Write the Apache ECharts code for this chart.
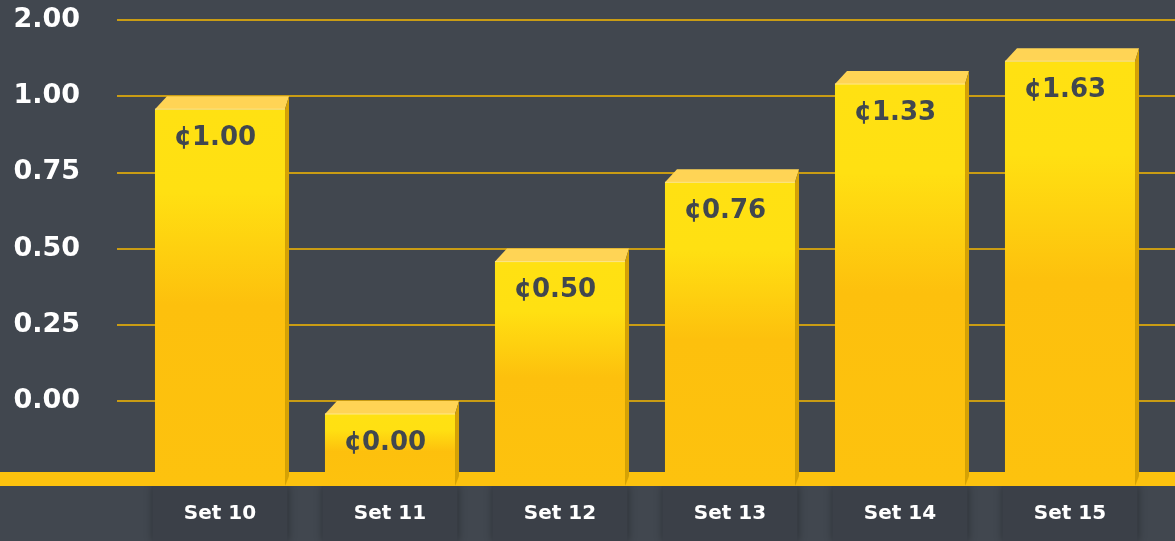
<!DOCTYPE html>
<html>
<head>
<meta charset="utf-8">
<style>
html,body{margin:0;padding:0;background:#41474f;}
#chart{width:1175px;height:541px;}
</style>
<script src="https://cdn.jsdelivr.net/npm/echarts@6/dist/echarts.min.js"></script>
</head>
<body>
<div id="chart"></div>
<script>
// ---- data ----
const categories = ['Set 10', 'Set 11', 'Set 12', 'Set 13', 'Set 14', 'Set 15'];
const values = [1.00, 0.00, 0.50, 0.76, 1.33, 1.63];
const tickValues = [0, 0.25, 0.50, 0.75, 1.00, 2.00];
const tickLabels = ['0.00', '0.25', '0.50', '0.75', '1.00', '2.00'];

// map a value onto the (equally spaced) tick scale of the picture
function toScale(v) {
  for (let i = 0; i < tickValues.length - 1; i++) {
    if (v <= tickValues[i + 1]) {
      return i + (v - tickValues[i]) / (tickValues[i + 1] - tickValues[i]);
    }
  }
  const n = tickValues.length - 1;
  return n + (v - tickValues[n]) / (tickValues[n] - tickValues[n - 1]);
}

const FONT = '"DejaVu Sans", sans-serif';
const floorDepth = 85 / 76.2; // floor sits below the 0.00 line (in tick units)

const chart = echarts.init(document.getElementById('chart'));

const option = {
  backgroundColor: '#41474f',
  animation: false,
  grid: [
    { left: 117, right: 0, top: 20, bottom: 140 },
    { left: 135, right: 20, top: 20, bottom: 55 }
  ],
  xAxis: [
    { gridIndex: 0, type: 'value', min: 0, max: 1, show: false },
    {
      gridIndex: 1, type: 'category', data: categories,
      axisLine: { show: false }, axisTick: { show: false },
      axisLabel: {
        margin: 0, color: '#ffffff', fontFamily: FONT, fontWeight: 'bold', fontSize: 20,
        width: 135, height: 55, lineHeight: 55, align: 'center', verticalAlign: 'top',
        backgroundColor: '#3b4048', padding: [0, 0, 0, 0],
        shadowColor: 'rgba(0,0,0,0.35)', shadowBlur: 8, shadowOffsetX: 0, shadowOffsetY: 0
      }
    }
  ],
  yAxis: [
    {
      gridIndex: 0, type: 'value', min: 0, max: tickValues.length - 1, interval: 1,
      axisLine: { show: false }, axisTick: { show: false },
      axisLabel: {
        margin: 37, color: '#ffffff', fontFamily: FONT, fontWeight: 'bold', fontSize: 27,
        formatter: function (v) { return tickLabels[Math.round(v)]; }
      },
      splitLine: { show: true, lineStyle: { color: '#f7b900', width: 1.5 } }
    },
    {
      gridIndex: 1, type: 'value', min: -floorDepth, max: tickValues.length - 1, show: false
    }
  ],
  graphic: [
    {
      type: 'rect', z: 1, silent: true,
      shape: { x: 0, y: 472, width: 1175, height: 14 },
      style: { fill: '#fdc20e' }
    }
  ],
  series: [
    {
      type: 'custom', xAxisIndex: 1, yAxisIndex: 1, z: 5,
      data: values.map((v, i) => [i, v]),
      renderItem: function (params, api) {
        const i = api.value(0);
        const v = api.value(1);
        const top = api.coord([i, toScale(v)]);
        const base = api.coord([i, -floorDepth]);
        const band = api.size([1, 0])[0];
        const w = band * 0.765;
        const x0 = top[0] - w / 2;
        const x1 = top[0] + w / 2;
        const depthX = 12, depthY = 13, sideW = 4;
        const yBack = top[1];
        const yFront = yBack + depthY;
        const yBase = base[1];
        return {
          type: 'group',
          children: [
            {
              type: 'rect',
              shape: { x: x0, y: yFront, width: w, height: yBase - yFront },
              style: {
                fill: new echarts.graphic.LinearGradient(0, 0, 0, 1, [
                  { offset: 0, color: '#ffe112' },
                  { offset: 0.22, color: '#ffe012' },
                  { offset: 0.52, color: '#fdc00d' },
                  { offset: 1, color: '#fdc20e' }
                ])
              }
            },
            {
              type: 'polygon',
              shape: { points: [[x0, yFront], [x0 + depthX, yBack], [x1 + sideW, yBack], [x1, yFront]] },
              style: { fill: '#ffd455' }
            },
            {
              type: 'line',
              shape: { x1: x0, y1: yFront, x2: x1, y2: yFront },
              style: { stroke: '#ffe98a', lineWidth: 1 }
            },
            {
              type: 'polygon',
              shape: { points: [[x1, yFront], [x1 + sideW, yBack], [x1 + sideW, yBase - 10], [x1, yBase]] },
              style: { fill: '#d6a204' }
            },
            {
              type: 'text',
              style: {
                x: top[0] - 5, y: yFront + 29,
                text: '\u00a2' + v.toFixed(2),
                fill: '#41474f', font: 'bold 26px ' + FONT,
                align: 'center', verticalAlign: 'middle'
              }
            }
          ]
        };
      }
    }
  ]
};

chart.setOption(option);
</script>
</body>
</html>
